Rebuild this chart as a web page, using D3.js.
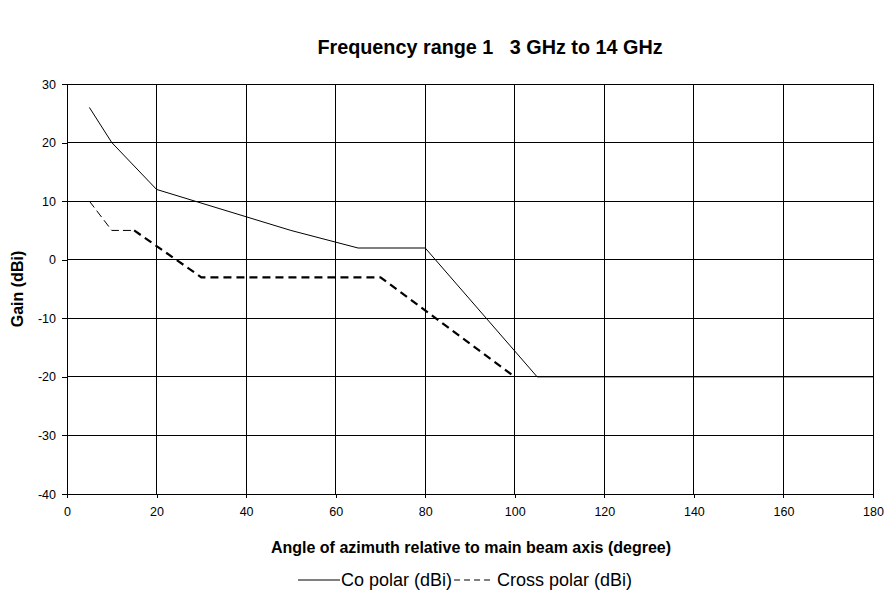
<!DOCTYPE html>
<html>
<head>
<meta charset="utf-8">
<script src="https://cdn.jsdelivr.net/npm/d3@7"></script>
<style>
  body { margin: 0; background: #fff; }
  svg { display: block; font-family: "Liberation Sans", Arial, sans-serif; }
</style>
</head>
<body>
<svg id="chart" width="889" height="593"></svg>
<script>
const xTicks = [0, 20, 40, 60, 80, 100, 120, 140, 160, 180];
const yTicks = [-40, -30, -20, -10, 0, 10, 20, 30];
const coAngles = [5, 10, 20, 50, 65, 80, 105, 180];
const coGain   = [26, 20, 12, 5, 2, 2, -20, -20];
const crossAngles = [5, 10, 15, 30, 70, 100];
const crossGain   = [10, 5, 5, -3, -3, -20];
const seriesNames = ["Co polar (dBi)", "Cross polar (dBi)"];
const titleText = "Frequency range 1\u00a0\u00a0\u00a03 GHz to 14 GHz";
const xTitle = "Angle of azimuth relative to main beam axis (degree)";
const yTitle = "Gain (dBi)";

const svg = d3.select("#chart");
const m = { left: 67, right: 873, top: 84, bottom: 494 };
const x = d3.scaleLinear().domain([0, 180]).range([m.left, m.right]);
const y = d3.scaleLinear().domain([-40, 30]).range([m.bottom, m.top]);

// grid
const g = svg.append("g");
g.selectAll("line.h").data(yTicks).join("line")
  .attr("x1", m.left).attr("x2", m.right)
  .attr("y1", d => y(d)).attr("y2", d => y(d))
  .attr("stroke", "#000").attr("stroke-width", 1).attr("shape-rendering", "crispEdges");
g.selectAll("line.v").data(xTicks).join("line")
  .attr("x1", d => x(d)).attr("x2", d => x(d))
  .attr("y1", m.top).attr("y2", m.bottom)
  .attr("stroke", "#000").attr("stroke-width", 1).attr("shape-rendering", "crispEdges");

// axes
const fmt = d => String(d);
const xAxis = svg.append("g").attr("transform", `translate(0,${m.bottom})`)
  .call(d3.axisBottom(x).tickValues(xTicks).tickFormat(fmt).tickSize(4).tickSizeOuter(0).tickPadding(9));
const yAxis = svg.append("g").attr("transform", `translate(${m.left},0)`)
  .call(d3.axisLeft(y).tickValues(yTicks).tickFormat(fmt).tickSize(5).tickSizeOuter(0).tickPadding(6));
[xAxis, yAxis].forEach(a => {
  a.select(".domain").attr("stroke", "#000");
  a.selectAll("line").attr("stroke", "#000").attr("shape-rendering", "crispEdges");
  a.selectAll("text").attr("font-size", 12.5).attr("fill", "#000")
    .attr("font-family", "'Liberation Sans', Arial, sans-serif");
});

// lines
const line = d3.line().x(d => x(d[0])).y(d => y(d[1]));
const co = coAngles.map((a, i) => [a, coGain[i]]);
const cross = crossAngles.map((a, i) => [a, crossGain[i]]);
svg.append("path").datum(co).attr("d", line)
  .attr("fill", "none").attr("stroke", "#000").attr("stroke-width", 1);
svg.append("path").datum(cross.slice(0, 3)).attr("d", line)
  .attr("fill", "none").attr("stroke", "#000").attr("stroke-width", 1)
  .attr("stroke-dasharray", "8,4");
svg.append("path").datum(cross.slice(2)).attr("d", line)
  .attr("fill", "none").attr("stroke", "#000").attr("stroke-width", 2.2)
  .attr("stroke-dasharray", "8,5");

// titles
svg.append("text").attr("x", 490).attr("y", 54).attr("text-anchor", "middle")
  .attr("font-size", 19.8).attr("font-weight", "bold").text(titleText);
svg.append("text").attr("x", 471).attr("y", 553).attr("text-anchor", "middle")
  .attr("font-size", 16).attr("font-weight", "bold").text(xTitle);
svg.append("text").attr("transform", `translate(23,${(m.top + m.bottom) / 2}) rotate(-90)`)
  .attr("text-anchor", "middle").attr("font-size", 16).attr("font-weight", "bold").text(yTitle);

// legend
const lg = svg.append("g");
const ly = 580;
let cx = 298;
lg.append("line").attr("x1", cx).attr("x2", cx + 42).attr("y1", ly).attr("y2", ly)
  .attr("stroke", "#000").attr("stroke-width", 1);
cx += 43;
const t1 = lg.append("text").attr("x", cx).attr("y", ly + 6).attr("font-size", 18).text(seriesNames[0]);
cx += t1.node().getComputedTextLength() + 2;
lg.append("line").attr("x1", cx).attr("x2", cx + 38).attr("y1", ly).attr("y2", ly)
  .attr("stroke", "#000").attr("stroke-width", 1).attr("stroke-dasharray", "6,4");
cx += 43;
lg.append("text").attr("x", cx).attr("y", ly + 6).attr("font-size", 18).text(seriesNames[1]);
</script>
</body>
</html>
